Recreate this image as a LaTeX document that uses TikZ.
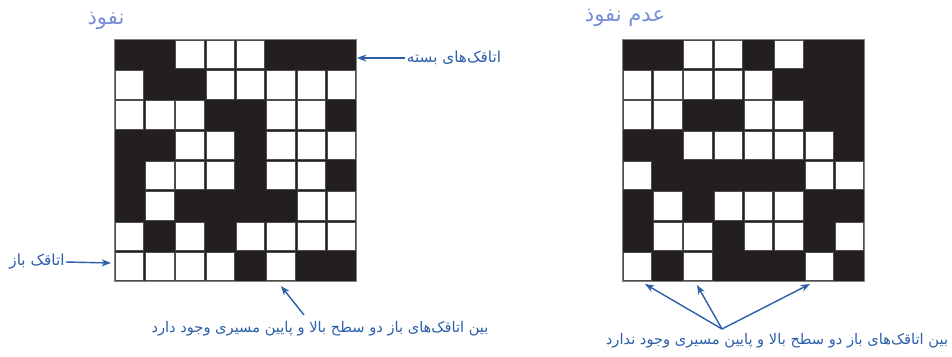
\documentclass[tikz,border=0pt]{standalone}
\usepackage{fontspec}
\newfontfamily\persianfont[Script=Arabic]{DejaVu Sans}
\TeXXeTstate=1
\usetikzlibrary{arrows.meta,positioning}
\definecolor{cellblack}{HTML}{231F20}
\definecolor{labelblue}{HTML}{2B5FAA}
\definecolor{titleblue}{HTML}{7A8ED8}

\tikzset{
  lbl/.style={text=labelblue, font=\persianfont\fontsize{13}{15}\selectfont, inner sep=0pt},
  longlbl/.style={lbl, font=\persianfont\fontsize{12.5}{14}\selectfont},
  ttl/.style={text=titleblue, font=\persianfont\fontsize{18}{20}\selectfont, inner sep=0pt},
  pointer/.style={draw=labelblue, line width=1.2pt, -{Stealth[length=8pt,width=6pt]}},
  opencell/.style={fill=white, draw=gray!60!black, line width=0.3pt},
}

\begin{document}
\begin{tikzpicture}[x=0.03cm, y=-0.03cm]
  \useasboundingbox (0,0) rectangle (952,356);

  % cell size
  \def\w{30.3}

  % Left grid: percolating
  \fill[cellblack] (114,39) rectangle ++(8*\w,8*\w);
  \foreach \row [count=\r] in {{1,1,0,0,0,1,1,1},{0,1,1,0,0,0,0,0},{0,0,0,1,1,0,0,1},{1,1,0,0,1,0,0,0},
                               {1,0,0,0,1,0,0,1},{1,0,1,1,1,1,0,0},{0,1,0,1,0,0,0,0},{0,0,0,0,1,0,1,1}} {
    \foreach \v [count=\c] in \row {
      \ifnum\v=0
        \pgfmathsetmacro\xa{114+(\c-1)*\w+0.9}
        \pgfmathsetmacro\ya{39+(\r-1)*\w+0.9}
        \filldraw[opencell] (\xa,\ya) rectangle ++(\w-1.8,\w-1.8);
      \fi
    }
  }
  \draw[gray, line width=0.4pt] (114,39) rectangle ++(8*\w,8*\w);

  % Right grid: not percolating
  \fill[cellblack] (622,39) rectangle ++(8*\w,8*\w);
  \foreach \row [count=\r] in {{1,1,0,0,1,0,1,1},{0,0,0,0,0,1,1,1},{0,0,1,1,0,0,1,1},{1,1,0,0,0,0,0,1},
                               {0,1,1,1,1,1,0,0},{1,0,1,0,0,0,1,1},{1,0,0,1,0,0,1,0},{0,1,0,1,1,1,0,1}} {
    \foreach \v [count=\c] in \row {
      \ifnum\v=0
        \pgfmathsetmacro\xa{622+(\c-1)*\w+0.9}
        \pgfmathsetmacro\ya{39+(\r-1)*\w+0.9}
        \filldraw[opencell] (\xa,\ya) rectangle ++(\w-1.8,\w-1.8);
      \fi
    }
  }
  \draw[gray, line width=0.4pt] (622,39) rectangle ++(8*\w,8*\w);

  % Titles
  \node[ttl] (perc) at (106,21) {\beginR نفوذ\endR};
  \node[ttl] (noperc) at (625,18) {\beginR عدم نفوذ\endR};

  % Labels
  \node[lbl] (closedlbl) at (454,58) {\beginR اتاقک‌های بسته\endR};
  \node[lbl] (openlbl) at (37,262) {\beginR اتاقک باز\endR};
  \node[longlbl] (pathlbl) at (320,329) {\beginR بین اتاقک‌های باز دو سطح بالا و پایین مسیری وجود دارد\endR};
  \node[longlbl] (nopathlbl) at (777,341) {\beginR بین اتاقک‌های باز دو سطح بالا و پایین مسیری وجود ندارد\endR};

  % Arrow ends
  \coordinate (closedrow) at (357,58);
  \coordinate (openrow) at (111,263);
  \coordinate (pathtail) at (304,315);
  \coordinate (pathcell) at (281,286);
  \coordinate (fan) at (722,329);
  \coordinate (cellA) at (645,284);
  \coordinate (cellB) at (697,285);
  \coordinate (cellC) at (810,284);

  % Arrows
  \draw[pointer] (closedlbl.west) ++(-2,0) -- (closedrow);
  \draw[pointer] (openlbl.east) ++(1,0) -- (openrow);
  \draw[pointer] (pathtail) -- (pathcell);
  \foreach \t in {cellA,cellB,cellC}
    \draw[pointer] (fan) -- (\t);

\end{tikzpicture}
\end{document}
